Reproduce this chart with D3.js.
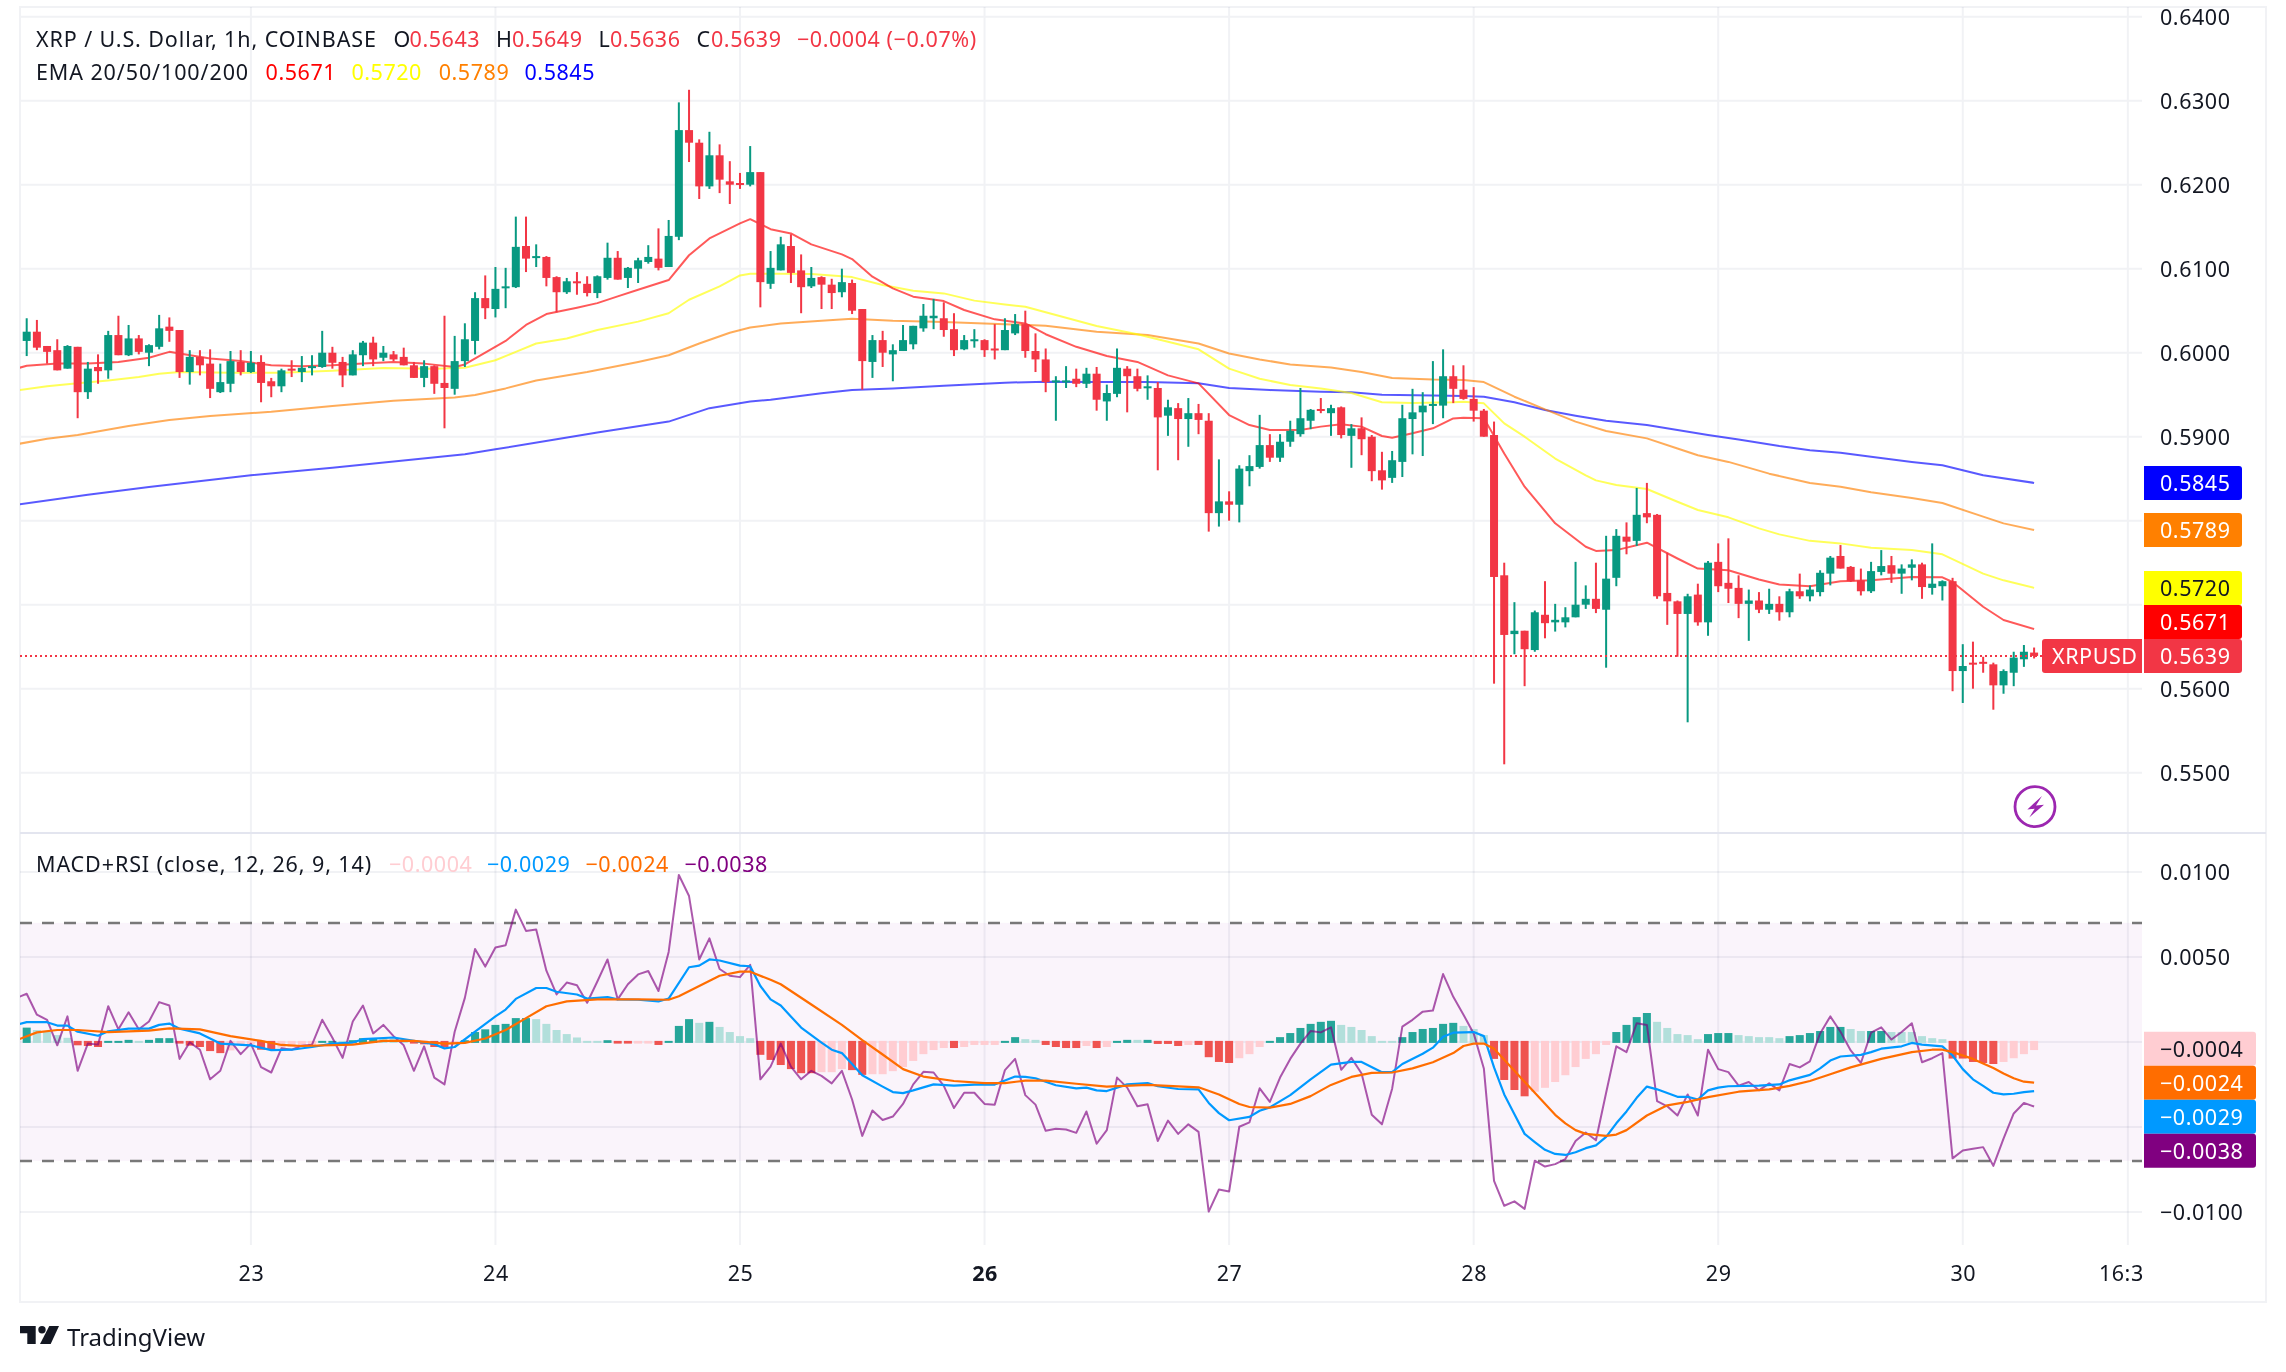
<!DOCTYPE html>
<html>
<head>
<meta charset="utf-8">
<script src="https://cdn.jsdelivr.net/npm/d3@7"></script>
<style>
html,body{margin:0;padding:0;background:#fff}
text{font-family:"Noto Sans",sans-serif}
</style>
</head>
<body>
<script>
// candles, one per hour, from 22nd 02:00
const open = [
.6014,.6025,.6008,.6003,.5981,.6007,.5953,.5983,.5979,.6021,
.5997,.6017,.6000,.6007,.6031,.6027,.5977,.5995,.5987,.5953,
.5963,.5989,.5977,.5989,.5966,.5960,.5981,.5977,.5982,.5983,
.6000,.5989,.5973,.5997,.6012,.5994,.5998,.5995,.5985,.5970,
.5984,.5964,.5957,.5990,.6014,.6065,.6052,.6078,.6078,.6127,
.6114,.6114,.6090,.6072,.6085,.6082,.6071,.6089,.6113,.6089,
.6100,.6108,.6112,.6102,.6138,.6265,.6250,.6198,.6235,.6204,
.6202,.6200,.6215,.6082,.6098,.6127,.6098,.6079,.6090,.6081,
.6072,.6083,.6052,.5989,.6015,.5998,.6002,.6010,.6029,.6041,
.6041,.6028,.6004,.6014,.6015,.6005,.6003,.6023,.6034,.6002,
.5992,.5965,.5965,.5969,.5963,.5975,.5942,.5951,.5981,.5972,
.5958,.5958,.5925,.5934,.5921,.5928,.5919,.5809,.5823,.5819,
.5859,.5864,.5890,.5875,.5894,.5903,.5919,.5933,.5928,.5935,
.5901,.5910,.5900,.5860,.5851,.5870,.5921,.5929,.5937,.5937,
.5972,.5956,.5945,.5931,.5902,.5735,.5665,.5669,.5646,.5688,
.5679,.5679,.5685,.5700,.5707,.5694,.5732,.5781,.5776,.5809,
.5807,.5714,.5704,.5689,.5712,.5679,.5751,.5726,.5720,.5701,
.5705,.5694,.5701,.5691,.5716,.5710,.5715,.5737,.5758,.5745,
.5729,.5716,.5739,.5747,.5737,.5744,.5748,.5720,.5722,.5728,
.5621,.5631,.5632,.5629,.5604,.5619,.5635,.5643];
const high = [
.6041,.6039,.6008,.6016,.6009,.6007,.5989,.5998,.6026,.6044,
.6033,.6021,.6010,.6045,.6042,.6027,.6003,.6003,.6004,.5987,
.6002,.6003,.6002,.5997,.5970,.5981,.5991,.5996,.5997,.6026,
.6007,.5995,.6003,.6014,.6019,.6008,.6002,.6006,.5989,.5991,
.5985,.6044,.6020,.6035,.6072,.6092,.6102,.6101,.6162,.6162,
.6129,.6115,.6091,.6089,.6096,.6091,.6092,.6131,.6121,.6102,
.6113,.6128,.6148,.6158,.6298,.6313,.6254,.6263,.6248,.6228,
.6214,.6246,.6215,.6121,.6138,.6141,.6117,.6102,.6091,.6088,
.6100,.6087,.6052,.6021,.6026,.6010,.6033,.6032,.6058,.6064,
.6060,.6047,.6021,.6028,.6016,.6034,.6041,.6046,.6050,.6023,
.6005,.5972,.5984,.5981,.5982,.5983,.5962,.6005,.5984,.5981,
.5973,.5965,.5944,.5940,.5946,.5939,.5928,.5873,.5835,.5866,
.5878,.5926,.5903,.5903,.5919,.5958,.5933,.5946,.5938,.5936,
.5915,.5923,.5902,.5882,.5883,.5938,.5957,.5953,.5990,.6004,
.5985,.5985,.5959,.5933,.5918,.5750,.5703,.5669,.5693,.5728,
.5701,.5697,.5751,.5723,.5750,.5782,.5790,.5798,.5839,.5845,
.5808,.5762,.5705,.5713,.5725,.5752,.5773,.5779,.5735,.5718,
.5715,.5719,.5710,.5719,.5737,.5723,.5741,.5758,.5771,.5746,
.5743,.5751,.5765,.5758,.5748,.5754,.5750,.5773,.5729,.5732,
.5653,.5656,.5638,.5631,.5623,.5644,.5652,.5649];
const low = [
.5996,.6003,.5987,.5979,.5981,.5922,.5945,.5963,.5969,.5997,
.5996,.5998,.5984,.6004,.6013,.5970,.5962,.5973,.5946,.5952,
.5953,.5973,.5976,.5941,.5947,.5953,.5971,.5965,.5973,.5982,
.5981,.5959,.5973,.5984,.5984,.5990,.5990,.5985,.5970,.5959,
.5951,.5910,.5950,.5983,.5998,.6040,.6042,.6053,.6077,.6096,
.6102,.6079,.6048,.6070,.6069,.6067,.6065,.6087,.6087,.6077,
.6083,.6106,.6098,.6102,.6134,.6227,.6183,.6195,.6190,.6177,
.6195,.6198,.6054,.6076,.6098,.6083,.6047,.6077,.6052,.6052,
.6066,.6046,.5956,.5970,.5983,.5966,.6002,.6004,.6025,.6028,
.6019,.5996,.6003,.6006,.5995,.5992,.6003,.6021,.5994,.5977,
.5953,.5919,.5958,.5959,.5958,.5931,.5919,.5947,.5929,.5954,
.5944,.5860,.5901,.5872,.5888,.5903,.5787,.5793,.5800,.5798,
.5841,.5862,.5870,.5870,.5888,.5900,.5909,.5928,.5901,.5898,
.5863,.5878,.5847,.5837,.5845,.5852,.5879,.5877,.5915,.5922,
.5940,.5944,.5918,.5900,.5606,.5510,.5641,.5603,.5644,.5660,
.5668,.5673,.5685,.5695,.5690,.5625,.5722,.5760,.5770,.5797,
.5707,.5676,.5638,.5560,.5675,.5663,.5715,.5702,.5684,.5657,
.5690,.5689,.5681,.5685,.5707,.5704,.5710,.5723,.5743,.5727,
.5711,.5714,.5735,.5726,.5713,.5729,.5707,.5712,.5705,.5597,
.5583,.5600,.5619,.5575,.5594,.5603,.5626,.5636];
const close = [
.6025,.6006,.6001,.5979,.6008,.5953,.5981,.5978,.6021,.5997,
.6017,.6001,.6009,.6029,.6026,.5977,.5995,.5985,.5957,.5965,
.5990,.5977,.5988,.5964,.5960,.5979,.5979,.5982,.5984,.6000,
.5988,.5973,.5998,.6012,.5992,.6000,.5992,.5985,.5970,.5984,
.5963,.5958,.5990,.6016,.6065,.6053,.6076,.6079,.6126,.6112,
.6115,.6089,.6072,.6085,.6083,.6071,.6091,.6113,.6087,.6101,
.6110,.6114,.6101,.6139,.6265,.6250,.6198,.6235,.6206,.6200,
.6200,.6215,.6084,.6101,.6129,.6095,.6078,.6089,.6081,.6071,
.6084,.6050,.5990,.6015,.6000,.6003,.6015,.6032,.6044,.6044,
.6027,.6003,.6015,.6016,.6003,.6003,.6027,.6034,.6002,.5992,
.5965,.5967,.5967,.5963,.5975,.5944,.5952,.5982,.5972,.5957,
.5960,.5923,.5935,.5921,.5928,.5920,.5809,.5823,.5819,.5862,
.5865,.5890,.5875,.5894,.5907,.5922,.5932,.5931,.5934,.5902,
.5910,.5897,.5859,.5848,.5872,.5922,.5929,.5937,.5939,.5972,
.5957,.5945,.5931,.5900,.5733,.5664,.5669,.5647,.5691,.5678,
.5682,.5685,.5700,.5707,.5695,.5731,.5782,.5775,.5807,.5804,
.5710,.5704,.5689,.5710,.5679,.5750,.5722,.5719,.5701,.5705,
.5694,.5701,.5691,.5716,.5710,.5718,.5738,.5756,.5743,.5728,
.5716,.5740,.5746,.5737,.5743,.5748,.5721,.5725,.5728,.5621,
.5627,.5629,.5630,.5604,.5621,.5637,.5644,.5639];

// EMA lines, read at the bar numbers in the matching *Bars list
const ema20Bars = [-1,0,3,6,9,12,14,15,18,21,24,27,30,33,36,39,42,43,45,47,49,51,54,56,58,60,63,65,67,70,71,73,75,77,80,81,83,85,87,90,92,95,98,100,103,106,109,112,115,118,120,122,125,127,129,131,133,134,136,138,140,141,143,145,147,150,153,154,156,159,162,164,167,170,172,175,178,181,185,188,189,192,194,197];
const ema20 = [.5981,.59845,.5987,.5987,.5989,.5994,.6001,.5999,.5993,.5990,.5985,.5984,.5985,.5987,.5989,.5987,.5983,.5986,.6000,.6014,.6033,.6046,.60535,.6059,.6067,.6075,.60865,.6116,.6136,.6154,.6159,.6147,.6142,.6129,.6117,.61115,.60905,.60766,.60667,.60615,.60508,.60397,.60349,.6022,.6007,.5996,.5989,.5973,.59635,.59258,.59139,.5908,.5908,.5912,.59147,.5912,.59008,.58988,.5904,.5910,.59218,.59226,.5922,.5880,.58405,.57969,.5769,.5764,.5765,.57738,.5755,.5743,.5741,.5730,.5724,.5722,.5728,.5729,.5733,.57326,.5727,.56976,.56818,.5671];
const ema50Bars = [-1,2,5,8,11,13,15,20,25,30,35,40,43,46,48,50,53,56,60,63,65,68,70,71,74,77,81,84,87,90,93,96,98,101,105,109,112,115,118,121,124,127,130,133,136,140,141,143,145,147,150,153,154,156,159,162,164,167,170,172,175,178,181,185,188,192,194,197];
const ema50 = [.5955,.5960,.59635,.5967,.5971,.5975,.5977,.5976,.5976,.59785,.59818,.5981,.5982,.5991,.6001,.6011,.6017,.6027,.6037,.6047,.6063,.6079,.6092,.6094,.6094,.60936,.6090,.60805,.60738,.60706,.6062,.60575,.60547,.60448,.60317,.6022,.6013,.6004,.5981,.5969,.59615,.59575,.5952,.5941,.5940,.5941,.59417,.59397,.59159,.5900,.5874,.5854,.5848,.58425,.58377,.58226,.58127,.5804,.57909,.57837,.5776,.5773,.57679,.5765,.5760,.5737,.5729,.5720];
const ema100Bars = [-1,2,5,10,14,18,24,30,36,42,44,47,50,55,60,63,66,69,71,74,78,81,85,90,96,100,105,110,115,118,121,124,128,131,134,138,141,143,146,149,152,155,159,162,164,167,171,175,178,181,185,188,192,194,197];
const ema100 = [.5891,.58976,.5902,.59127,.59198,.59246,.59297,.59365,.59428,.59468,.59496,.59575,.5967,.5977,.5989,.5997,.6011,.60238,.6030,.60349,.6038,.60405,.6038,.60365,.6034,.6032,.6025,.6021,.6011,.5999,.5992,.5986,.59825,.5977,.5970,.5968,.59675,.5965,.59476,.59326,.59179,.59068,.5898,.5886,.5878,.5870,.5856,.5845,.58405,.58338,.5827,.5821,.58048,.57968,.5789];
const ema200Bars = [-1,6,12,22,30,43,46,52,56,63,67,71,73,78,81,85,90,96,100,105,110,115,118,122,127,130,133,138,141,143,146,149,152,155,159,162,165,168,172,175,178,181,185,188,192,197];
const ema200 = [.5819,.5831,.5840,.5854,.5863,.5879,.5885,.5897,.5905,.5918,.5934,.5942,.5944,.59516,.59555,.59575,.59607,.59643,.59655,.5965,.5965,.59635,.5958,.59555,.59536,.59528,.5950,.5949,.59484,.59476,.59409,.59318,.5925,.5919,.5914,.5908,.5902,.58968,.58889,.5884,.5881,.5876,.5870,.5866,.5854,.5845];

// lower pane, all in units of 0.0001; histogram has one value per bar
const hist = [
8.4,7,6,4,2.4,-2,-2.4,-3,.6,.6,1.2,.6,1.2,2.2,2.2,-1,-2.2,-3,-5.4,-6.6,
-5,-2,-1.4,-4.6,-4.6,-3.4,-3,-2.2,-1.8,.6,.6,.6,1,2.2,2.2,2.2,1.8,1,-1,-1.4,
-3,-3,-1.6,1,5.8,7.4,10,10.6,14,14,13.4,10.6,7,4.6,2.6,.6,.6,1,-1,-1,
-1,-1,-1.8,.6,9.4,13.4,11.2,11.8,8.8,5.8,3.4,2.2,-7.6,-10.6,-13.6,-16,-18.4,-18.4,-17.8,-17.8,
-16,-16.6,-19.4,-19,-19,-17.2,-14.8,-11.2,-7.2,-4.8,-3.6,-3.6,-3,-1.8,-1.8,-1.8,.6,2.8,1.6,1.2,
-1.8,-3,-3.6,-3.6,-2.4,-3.6,-3,.6,1.2,1.2,1.2,-1.2,-1.2,-2.4,-1.8,-1.8,-9,-11.8,-12.4,-9.6,
-7.2,-3,.6,2.8,5.2,8.2,10.6,11.8,12.4,10,8.8,7,3.4,.6,.6,2.8,5.8,7.6,8.2,10.6,
11.2,9.4,7.6,4,-10,-22.4,-28.3,-32,-29.3,-27,-23.6,-19.6,-14.8,-10,-7.2,-1.8,5.8,10,14.6,17,
11.8,8.2,4.6,4,1.6,4.6,5.2,5.2,4,3.4,2.8,2.8,2.2,3.4,4,5.2,6.4,8.8,8.8,7.6,
6.4,6.4,6.4,5.8,5.8,5.8,3.4,2.2,1.6,-9.8,-9.8,-11.8,-12.4,-13,-11.8,-9.6,-7.2,-4.8];
const histTone = "GggggrrrGGGgGGGrrrrrppprrppppGGgGGGgggrrrrpGGGGGGGgggggggGrrpprGGGgGggggrrrrrrppprrpppppppprppppGGggrrrrprpGGgGrrrprrrrpppGGGGGGGggggggGGGGGGgggrrrrppppppppGGGGgggggGGGgggggGGGGGGggGGggggggrrrrrpppp";
// RSI starts one bar before the first candle, it runs off the left edge
const rsi = [
25.9,28.3,16,13,-2,15,-17,-1,-1.6,21,7.4,17.4,7.4,12,23.4,21.4,-10,-.2,-4.6,-22,-17,
.6,-7.2,-1,-14.8,-18,-3.8,-4.6,-2.2,-1.6,13,2.4,-9.4,12,21.4,5,10,3.4,-2,-17,-2.6,
-21,-25,6,25.9,54.7,44.3,55.5,56.9,77.8,65.3,66.1,41.9,27.9,34.9,33.3,23,35.5,48.5,25,33.9,
39.7,41.7,29.9,52.9,98.2,85.8,48.5,60.9,42.9,38.9,38.1,45.3,-22,-14.6,-1,-14.6,-22,-17,-20,-24.4,
-17,-33.9,-55.3,-40.3,-45.9,-43.9,-36.5,-25,-17.6,-18,-25.9,-38.9,-29.9,-29.9,-36.5,-36.9,-16.6,-10,-31.3,-36.9,
-52.3,-51.1,-51.5,-53.5,-40.9,-59.9,-51.9,-21,-26.9,-37.9,-36.7,-58.3,-46.3,-54.1,-48.5,-52.9,-99.8,-86.8,-88,-49.9,
-47.3,-27.3,-35.3,-21,-10,-1,6.4,5.6,8.6,-16.4,-9.4,-18.6,-42.9,-48.5,-27.5,9,13,17.8,18.4,39.9,
26.5,16,5,-15.6,-81.8,-96.4,-93.8,-98.2,-69.9,-73.3,-71.9,-68.9,-58.3,-53.3,-57.9,-29.9,-2.6,-6,11,10,
-34.9,-37.9,-43.3,-30.9,-43.3,-4.6,-16,-17.8,-25.7,-23.6,-28.5,-24.4,-28.5,-13,-15,-11.4,5,15,6,-5,
-12.4,5.4,8.6,1.4,5.8,11,-12,-9.6,-6.6,-68.5,-63.9,-62.9,-61.9,-72.9,-56.9,-42.1,-35.9,-38];
const macdBars = [-1,0,2,3,4,5,7,8,10,12,13,14,15,17,19,22,24,26,28,30,32,33,36,38,40,41,42,44,46,47,48,50,51,52,54,55,57,58,60,62,63,65,66,67,68,70,71,72,73,74,76,78,79,80,81,82,84,85,86,87,89,91,93,95,97,98,99,101,103,104,105,106,108,110,111,113,115,116,117,118,120,121,122,124,126,128,130,131,133,134,135,137,138,139,140,142,143,144,145,146,147,148,149,150,151,152,153,154,155,156,157,158,159,160,162,163,164,165,166,167,170,172,173,175,176,177,178,180,181,182,184,185,186,188,189,190,191,192,193,194,195,196,197];
const macd = [10,11.6,11.6,9.6,9.6,6,3.6,6.2,7.8,7.8,10,10.8,7.8,5,-1,-2,-4.8,-4.6,-3,-1,-.4,1.6,2.6,.6,-1.4,-3.8,-3,6,15,19,25.3,31.7,31.7,29.5,27.9,25.5,26.3,25,24.8,23.8,25.5,43.9,44.9,48.5,47.9,44.9,44.5,32.9,25,21.4,8.4,-.4,-4.6,-6.6,-13,-19.6,-26.3,-29.5,-30.1,-28.5,-25,-25.7,-25.1,-25.1,-20.4,-20.6,-21.4,-25.5,-27.3,-26.9,-28.5,-28.9,-25,-24.2,-26.1,-27.7,-27.9,-35.9,-41.9,-46.1,-44.1,-40.5,-38.5,-31.3,-22,-13.4,-11.8,-11.8,-17.8,-17.8,-13,-7,-3.4,3,5.4,5.8,3.4,-15,-30.9,-42.5,-54.1,-58.9,-63.5,-65.9,-66.5,-64.9,-62.5,-60.9,-55.9,-47.9,-40.9,-32.9,-26.3,-27.9,-32.3,-32.3,-33.9,-28.5,-26.9,-26.1,-25.7,-25,-22.6,-19.4,-15.6,-11,-8.6,-7.6,-6,-4,-2.6,-.6,-1.6,-2.6,-8,-16,-22,-25.9,-29.9,-30.9,-30.5,-29.5,-29];
const signalBars = [-1,1,3,5,8,12,14,17,20,23,25,27,32,35,38,41,43,45,47,49,51,53,56,60,63,64,66,68,70,71,73,74,77,80,82,84,86,88,91,94,96,98,100,103,106,110,115,117,119,120,122,124,126,128,130,132,134,136,138,140,141,142,143,144,146,148,150,151,152,153,155,156,157,159,161,163,165,168,171,173,175,177,179,182,185,187,188,189,191,193,194,195,196,197];
const signal = [1,5.6,7,7,5.8,6.6,8,7.4,3.4,.6,-1.8,-2.4,-1.6,.6,.6,-1,-.6,2,7,14,21,23.8,25,25,24.8,26.9,32.9,38.9,41.3,41.3,36.5,33.9,22,10,1,-7.4,-16,-20.4,-23,-24.2,-24.2,-22.8,-22.8,-24.6,-26.3,-25.3,-26.7,-30.9,-36.5,-38.3,-38.7,-36.5,-31.9,-25.3,-20.6,-18.2,-18,-15.6,-12,-6.6,-2.4,-1,-1,-4,-17,-29.9,-42.9,-47.9,-51.9,-54.1,-55.3,-54.5,-51.9,-43.3,-37.3,-35.3,-32.5,-29.3,-27.9,-25.9,-23,-19,-15,-10,-6,-4.6,-4.6,-6,-10,-15.4,-18.6,-21.4,-23.4,-24];

const priceGrid = [.64,.63,.62,.61,.60,.59,.58,.57,.56,.55];
const priceTicks = [.64,.63,.62,.61,.60,.59,.56,.55]; // .58 and .57 sit under the value tags
const paneGrid = [100,50,0,-50,-100];
const paneTicks = [100,50,-100]; // same for 0 and -50
const paneBand = [70,-70];
const dayBars = [22,46,70,94,118,142,166,190,206.2];
const dayLabels = ["23","24","25","26","27","28","29","30","16:3"];

const W = 2286, H = 1372;
const left = 20, plotRight = 2142, frameRight = 2266, frameTop = 7, frameBottom = 1302;
const split = 833, axisTop = 1245;
const red = "#f23645", green = "#089981", dark = "#131722", gridCol = "#f1f2f5";
const fs = 21.5, numSpace = .55, wordSpace = .9;

const svg = d3.select("body").append("svg").attr("width", W).attr("height", H).style("display", "block");
const defs = svg.append("defs");
defs.append("clipPath").attr("id", "mainClip").append("rect").attr("x", left).attr("y", frameTop).attr("width", plotRight - left).attr("height", split - frameTop);
defs.append("clipPath").attr("id", "paneClip").append("rect").attr("x", left).attr("y", split).attr("width", plotRight - left).attr("height", axisTop - split);

const x = d3.scaleLinear().domain([0, 197]).range([26.7, 2034.1]);
const y = d3.scaleLinear().domain([.64, .55]).range([16.7, 772.7]);
const yPane = d3.scaleLinear().domain([100, -100]).range([871.9, 1211.9]);

// frame
svg.append("rect").attr("x", left).attr("y", frameTop).attr("width", frameRight - left).attr("height", frameBottom - frameTop)
  .attr("fill", "none").attr("stroke", gridCol).attr("stroke-width", 2);

// rsi band goes under the grid
svg.append("rect").attr("x", left).attr("width", plotRight - left)
  .attr("y", yPane(paneBand[0])).attr("height", yPane(paneBand[1]) - yPane(paneBand[0]))
  .attr("fill", "#9c27b0").attr("opacity", .05);

// grid
svg.append("g").selectAll("line").data(dayBars).join("line")
  .attr("x1", d => x(d)).attr("x2", d => x(d)).attr("y1", frameTop).attr("y2", axisTop)
  .attr("stroke", gridCol).attr("stroke-width", 2).style("mix-blend-mode", "multiply");
svg.append("g").selectAll("line").data(priceGrid).join("line")
  .attr("x1", left).attr("x2", plotRight).attr("y1", d => y(d)).attr("y2", d => y(d))
  .attr("stroke", gridCol).attr("stroke-width", 2);
svg.append("g").selectAll("line").data(paneGrid).join("line")
  .attr("x1", left).attr("x2", plotRight).attr("y1", d => yPane(d)).attr("y2", d => yPane(d))
  .attr("stroke", gridCol).attr("stroke-width", 2).style("mix-blend-mode", "multiply");
svg.append("line").attr("x1", left).attr("x2", frameRight).attr("y1", split).attr("y2", split)
  .attr("stroke", "#e3e5ef").attr("stroke-width", 2);

// ema lines
const main = svg.append("g").attr("clip-path", "url(#mainClip)");
function emaLine(bars, vals, col) {
  const line = d3.line().x(d => x(d)).y((d, i) => y(vals[i]));
  main.append("path").attr("d", line(bars)).attr("fill", "none").attr("stroke", col)
    .attr("stroke-width", 2).attr("stroke-opacity", .65).attr("stroke-linejoin", "round");
}
emaLine(ema200Bars, ema200, "#0000ff");
emaLine(ema100Bars, ema100, "#ff8000");
emaLine(ema50Bars, ema50, "#ffff00");
emaLine(ema20Bars, ema20, "#ff0000");

// close price line
svg.append("line").attr("x1", left).attr("x2", 2042).attr("y1", y(close[197])).attr("y2", y(close[197]))
  .attr("stroke", red).attr("stroke-width", 2).attr("stroke-dasharray", "2 3");

// candles
const candle = main.selectAll("g.candle").data(d3.range(open.length)).join("g").attr("class", "candle")
  .attr("fill", i => close[i] >= open[i] ? green : red);
candle.append("rect").attr("x", i => x(i) - 1).attr("width", 2)
  .attr("y", i => y(high[i])).attr("height", i => y(low[i]) - y(high[i]));
candle.append("rect").attr("x", i => x(i) - 4).attr("width", 8)
  .attr("y", i => y(Math.max(open[i], close[i])))
  .attr("height", i => Math.max(2, Math.abs(y(open[i]) - y(close[i]))));

// lower pane
const pane = svg.append("g").attr("clip-path", "url(#paneClip)");
const toneCol = {G: "#26a69a", g: "#b2dfdb", r: "#ef5350", p: "#ffcdd2"};
pane.selectAll("rect.bar").data(hist).join("rect").attr("class", "bar")
  .attr("x", (d, i) => x(i) - 4).attr("width", 8)
  .attr("y", d => d > 0 ? yPane(d) : yPane(0) - 1)
  .attr("height", d => Math.abs(yPane(d) - yPane(0)) + 1)
  .attr("fill", (d, i) => toneCol[histTone[i]]);
pane.selectAll("line.band").data(paneBand).join("line").attr("class", "band")
  .attr("x1", left).attr("x2", plotRight).attr("y1", d => yPane(d)).attr("y2", d => yPane(d))
  .attr("stroke", "#787878").attr("stroke-width", 2.5).attr("stroke-dasharray", "12 10");
pane.append("path").attr("d", d3.line().x((d, i) => x(i - 1)).y(d => yPane(d))(rsi))
  .attr("fill", "none").attr("stroke", "#800080").attr("stroke-opacity", .65).attr("stroke-width", 2).attr("stroke-linejoin", "round");
pane.append("path").attr("d", d3.line().x(d => x(d)).y((d, i) => yPane(macd[i]))(macdBars))
  .attr("fill", "none").attr("stroke", "#0099ff").attr("stroke-width", 2.2).attr("stroke-linejoin", "round");
pane.append("path").attr("d", d3.line().x(d => x(d)).y((d, i) => yPane(signal[i]))(signalBars))
  .attr("fill", "none").attr("stroke", "#ff6d00").attr("stroke-width", 2.2).attr("stroke-linejoin", "round");

// axes
const minus = s => s.replace("-", "\u2212");
const tick = v => minus(v.toFixed(4));
const priceAxis = svg.append("g").attr("transform", `translate(${plotRight},1)`)
  .call(d3.axisRight(y).tickValues(priceTicks).tickFormat(d => d.toFixed(4)).tickSize(0).tickPadding(18));
const macdAxis = svg.append("g").attr("transform", `translate(${plotRight},1)`)
  .call(d3.axisRight(yPane).tickValues(paneTicks).tickFormat(d => tick(d / 10000)).tickSize(0).tickPadding(18));
const timeAxis = svg.append("g").attr("transform", `translate(0,${axisTop})`)
  .call(d3.axisBottom(x).tickValues(dayBars).tickFormat((d, i) => dayLabels[i]).tickSize(0).tickPadding(21));
[priceAxis, macdAxis, timeAxis].forEach(a => {
  a.select(".domain").remove();
  a.selectAll("text").attr("font-size", fs).attr("fill", dark).attr("letter-spacing", numSpace).style("font-family", '"Noto Sans",sans-serif');
});
timeAxis.selectAll("text").filter((d, i) => dayLabels[i] === "26").attr("font-weight", "bold");
timeAxis.selectAll("text").filter((d, i) => dayLabels[i] === "16:3").attr("dx", -7);

// value tags on the right hand axis
function tag(label, py, bg, fg, rightX) {
  const g = svg.append("g");
  g.append("path").attr("d", `M${plotRight + 2} ${py - 17}H${rightX - 3}q3 0 3 3V${py + 14}q0 3 -3 3H${plotRight + 2}Z`).attr("fill", bg);
  g.append("text").attr("x", plotRight + 18).attr("y", py + 8.5).attr("font-size", fs).attr("letter-spacing", numSpace).attr("fill", fg).text(label);
}
const closeY = y(close[197]);
const redY = Math.min(y(.5671), closeY - 34);
tag("0.5845", y(.5845), "#0000ff", "#fff", 2242);
tag("0.5789", y(.5789), "#ff8000", "#fff", 2242);
tag("0.5720", y(.5720), "#ffff00", dark, 2242);
tag("0.5671", redY, "#ff0000", "#fff", 2242);
tag("0.5639", closeY, red, "#fff", 2242);
svg.append("path").attr("d", `M${plotRight} ${closeY - 17}H2045q-3 0 -3 3V${closeY + 14}q0 3 3 3H${plotRight}Z`).attr("fill", red);
svg.append("text").attr("x", 2052).attr("y", closeY + 8.5).attr("font-size", fs).attr("letter-spacing", numSpace).attr("fill", "#fff").text("XRPUSD");

// lower tags stack downwards from the histogram value
const paneTags = [[-4, "#ffcdd2", dark], [-24, "#ff6d00", "#fff"], [-29, "#0099ff", "#fff"], [-38, "#800080", "#fff"]];
let lastY = -Infinity;
paneTags.forEach(t => {
  lastY = Math.max(yPane(t[0]), lastY + 34);
  tag(tick(t[0] / 10000), lastY, t[1], t[2], 2256);
});

// legends
function legend(yy, parts) {
  parts.forEach(p => svg.append("text").attr("x", p[0]).attr("y", yy).attr("font-size", fs)
    .attr("letter-spacing", p[2] ? numSpace : wordSpace).attr("fill", p[2] || dark).text(p[1]));
}
legend(46.5, [[36, "XRP / U.S. Dollar, 1h, COINBASE"], [393.6, "O"], [409.6, "0.5643", red], [496, "H"], [512, "0.5649", red],
  [598.6, "L"], [610, "0.5636", red], [696.6, "C"], [711, "0.5639", red], [797, "\u22120.0004 (\u22120.07%)", red]]);
legend(80, [[36, "EMA 20/50/100/200"], [265.6, "0.5671", "#ff0000"], [351.4, "0.5720", "#ffff00"], [438.7, "0.5789", "#ff8000"], [524.5, "0.5845", "#0000ff"]]);
legend(872, [[36, "MACD+RSI (close, 12, 26, 9, 14)"], [389, "\u22120.0004", "#ffcdd2"], [487, "\u22120.0029", "#0099ff"], [585.5, "\u22120.0024", "#ff6d00"], [684.5, "\u22120.0038", "#800080"]]);

// lightning badge
const bolt = svg.append("g").attr("transform", "translate(2035,806.7)");
bolt.append("circle").attr("r", 20).attr("fill", "none").attr("stroke", "#9c27b0").attr("stroke-width", 2.8);
bolt.append("path").attr("d", "M7 -10.7L-7.7 2.7L-.3 2L-5.7 10.7L9 -2L1 -1.3Z").attr("fill", "#9c27b0");

// logo
const logo = svg.append("g").attr("fill", dark);
logo.append("path").attr("d", "M20 1326H35.7V1344H27.3V1333.3H20Z");
logo.append("circle").attr("cx", 42).attr("cy", 1329.7).attr("r", 3.7);
logo.append("path").attr("d", "M49.3 1326H59L50.7 1344H40Z");
svg.append("text").attr("x", 67).attr("y", 1346).attr("font-size", 24).attr("fill", dark).text("TradingView");
</script>
</body>
</html>
